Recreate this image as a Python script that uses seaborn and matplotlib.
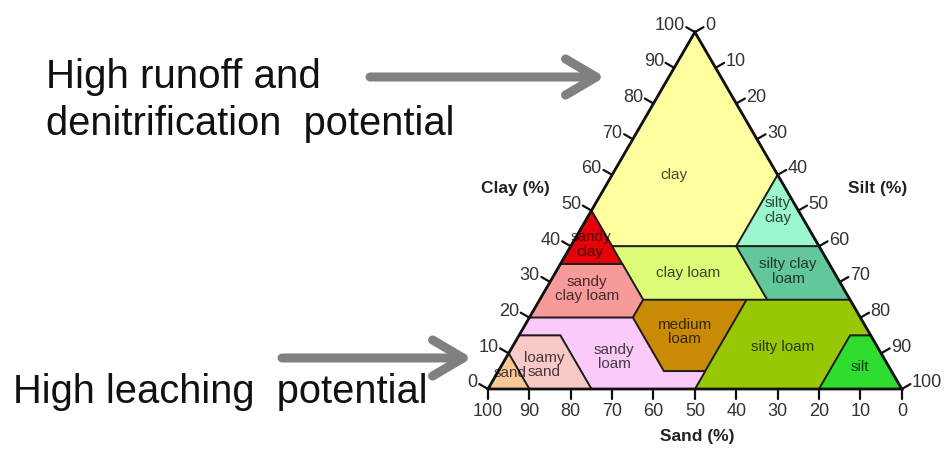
import numpy as np
import matplotlib
matplotlib.use("Agg")
import matplotlib.pyplot as plt
import seaborn as sns

# soil classes as (sand %, clay %) corner points
regiones = ["clay", "silty clay", "sandy clay", "clay loam", "silty clay loam",
            "sandy clay loam", "medium loam", "silty loam", "silt",
            "sandy loam", "loamy sand", "sand"]
poligonos = [
    [(0, 100), (50, 50), (50, 40), (20, 40), (0, 60)],
    [(20, 40), (0, 40), (0, 60)],
    [(50, 50), (65, 35), (50, 35)],
    [(50, 40), (20, 40), (20, 25), (50, 25)],
    [(20, 40), (0, 40), (0, 25), (20, 25)],
    [(65, 35), (50, 35), (50, 25), (55, 20), (80, 20)],
    [(50, 25), (25, 25), (45, 5), (55, 5), (55, 20)],
    [(25, 25), (0, 25), (0, 15), (5, 15), (20, 0), (50, 0), (45, 5)],
    [(5, 15), (0, 15), (0, 0), (20, 0)],
    [(80, 20), (55, 20), (55, 5), (45, 5), (50, 0), (75, 0), (75, 15), (85, 15)],
    [(85, 15), (75, 15), (75, 0), (90, 0), (90, 10)],
    [(90, 10), (90, 0), (100, 0)],
]
colores = ["#ffff9f", "#9cf8cc", "#e60008", "#dcfc78", "#62c89a",
           "#f79a9a", "#c98a06", "#98c805", "#2fdd2f",
           "#fbcaf8", "#f9c9c8", "#f8c897"]
etiquetas = ["clay", "silty\nclay", "sandy\nclay", "clay loam", "silty clay\nloam",
             "sandy\nclay loam", "medium\nloam", "silty loam", "silt",
             "sandy\nloam", "loamy\nsand", "sand"]
posEtiquetas = [(25, 60), (5, 50), (55, 40.5), (35.5, 32.5), (11, 33),
                (62, 28), (44.5, 16), (23, 11.7), (7, 6.2),
                (65, 9), (83, 6.7), (92.5, 4.5)]

ticks = [0, 10, 20, 30, 40, 50, 60, 70, 80, 90, 100]


def aXY(arena, arcilla):
    x = 100 - arena - arcilla / 2.0
    y = arcilla * np.sqrt(3) / 2.0
    return x, y


sns.set_style("white")
plt.rcParams['font.family'] = ['Liberation Sans', 'DejaVu Sans']

W, H = 949, 449
fig = plt.figure(figsize=(W / 100, H / 100), dpi=100)
ax = fig.add_axes([0, 0, 1, 1])
ax.set_xlim(-117.9, 111.4)
ax.set_ylim(-14.56, 94.4)
ax.axis("off")

# regiones del triangulo
for pts, col in zip(poligonos, colores):
    xs, ys = zip(*[aXY(s, c) for s, c in pts])
    ax.fill(xs, ys, facecolor=col, edgecolor="#1e1e1e", linewidth=1.3, zorder=1)

for txt, (s, c) in zip(etiquetas, posEtiquetas):
    x, y = aXY(s, c)
    ax.text(x, y, txt, ha="center", va="center", fontsize=11, color="black",
            alpha=0.72, linespacing=1.05, zorder=3)

# borde exterior
bx, by = zip(*[aXY(s, c) for s, c in [(100, 0), (0, 0), (0, 100), (100, 0)]])
ax.plot(bx, by, color="#111111", linewidth=2, zorder=2, solid_joinstyle="miter")

# marcas de los ejes
L = 2.4
c30, s30 = np.cos(np.pi / 6), np.sin(np.pi / 6)
for t in ticks:
    # arcilla (lado izquierdo)
    x, y = aXY(100 - t, t)
    ax.plot([x, x - L * c30], [y, y + L * s30], color="#111111", lw=1.6, zorder=2)
    ax.text(x - L * c30 - 0.4, y + L * s30 + 0.3, str(t), ha="right", va="center",
            fontsize=13, color="#333333")
    # limo (lado derecho)
    x, y = aXY(0, 100 - t)
    ax.plot([x, x + L * c30], [y, y + L * s30], color="#111111", lw=1.6, zorder=2)
    ax.text(x + L * c30 + 0.4, y + L * s30 + 0.3, str(t), ha="left", va="center",
            fontsize=13, color="#333333")
    # arena (abajo)
    x, y = aXY(t, 0)
    ax.plot([x, x], [y, y - L], color="#111111", lw=1.6, zorder=2)
    ax.text(x, y - L - 1.0, str(t), ha="center", va="top",
            fontsize=13, color="#333333")


def fp(px, py):
    return (px / W, 1 - py / H)


fig.text(*fp(515, 188), "Clay (%)", ha="center", va="center", fontsize=12.5,
         fontweight="bold", color="#222222")
fig.text(*fp(878, 188), "Silt (%)", ha="center", va="center", fontsize=12.5,
         fontweight="bold", color="#222222")
fig.text(*fp(697, 437), "Sand (%)", ha="center", va="center", fontsize=12.5,
         fontweight="bold", color="#222222")

fig.text(*fp(46, 88), "High runoff and", ha="left", va="baseline", fontsize=29,
         color="#111111")
fig.text(*fp(46, 135), "denitrification  potential", ha="left", va="baseline",
         fontsize=28.7, color="#111111")
fig.text(*fp(13, 403), "High leaching  potential", ha="left", va="baseline",
         fontsize=28.7, color="#111111")

flecha = dict(arrowstyle="->,head_length=1.1,head_width=0.65", color="#808080",
              lw=6.5, mutation_scale=20, shrinkA=0, shrinkB=0)
ax.annotate("", xy=fp(605, 77), xytext=fp(370, 77), xycoords="figure fraction",
            textcoords="figure fraction", arrowprops=flecha)
ax.annotate("", xy=fp(472, 358), xytext=fp(282, 358), xycoords="figure fraction",
            textcoords="figure fraction", arrowprops=flecha)

fig.savefig("out.png", dpi=100, facecolor="white")
